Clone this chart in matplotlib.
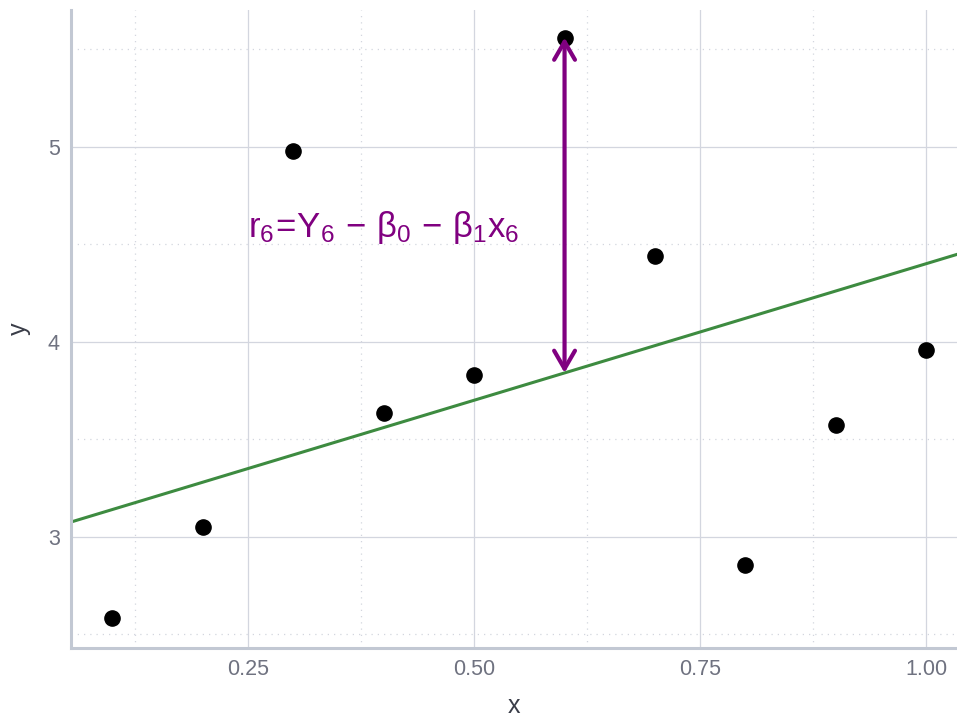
import numpy as np
import matplotlib.pyplot as plt
from matplotlib.ticker import MultipleLocator

# 数据
x = [0.1, 0.2, 0.3, 0.4, 0.5, 0.6, 0.7, 0.8, 0.9, 1.0]
y = [2.585, 3.051, 4.98, 3.636, 3.83, 5.559, 4.441, 2.856, 3.574, 3.959]
beta0 = 3.0
beta1 = 1.4
i_res = 5  # 第6个点

plt.rcParams['font.family'] = ['Liberation Sans', 'DejaVu Sans']
plt.rcParams['mathtext.fontset'] = 'custom'
plt.rcParams['mathtext.rm'] = 'Liberation Sans'
plt.rcParams['mathtext.it'] = 'Liberation Sans'
plt.rcParams['mathtext.sf'] = 'Liberation Sans'

grid_col = '#d3d6df'
axis_col = '#c2c8d3'
tick_col = '#6f7280'

fig = plt.figure(figsize=(9.57, 7.17), dpi=100)
ax = fig.add_axes([0.0742, 0.0962, 0.9258, 0.8898])

xlim = (0.0542, 1.034)
ax.set_xlim(xlim)
ax.set_ylim(2.43, 5.70)

# 网格
ax.xaxis.set_major_locator(MultipleLocator(0.25))
ax.xaxis.set_minor_locator(MultipleLocator(0.125))
ax.yaxis.set_major_locator(MultipleLocator(1))
ax.yaxis.set_minor_locator(MultipleLocator(0.5))
ax.grid(which='major', color=grid_col, linewidth=0.9)
ax.grid(which='minor', color=grid_col, linewidth=0.9, linestyle=(0, (1, 4)))
ax.set_axisbelow(True)

# 回归线
xs = np.array(xlim)
ax.plot(xs, beta0 + beta1 * xs, color='#3d8b40', linewidth=2.2, zorder=2)

# 点
ax.scatter(x, y, s=120, color='black', zorder=3)

# 残差箭头
xr = x[i_res]
ax.annotate('', xy=(xr, y[i_res]), xytext=(xr, beta0 + beta1 * xr),
            arrowprops=dict(arrowstyle='<->,head_length=1.3,head_width=0.75',
                            color='#800080', lw=3, shrinkA=0, shrinkB=0),
            zorder=4)
ax.text(0.25, 4.585, r'$\mathrm{r_6\!=\!Y_6\,-\,\beta_0\,-\,\beta_1 x_6}$', color='#800080',
        fontsize=25, ha='left', va='center')

# 坐标轴
for s in ['top', 'right']:
    ax.spines[s].set_visible(False)
for s in ['left', 'bottom']:
    ax.spines[s].set_color(axis_col)
    ax.spines[s].set_linewidth(2.2)
ax.tick_params(which='both', length=0, labelsize=15.5, labelcolor=tick_col, pad=8)
ax.set_xticks([0.25, 0.5, 0.75, 1.0])
ax.set_xticklabels(['0.25', '0.50', '0.75', '1.00'])
ax.set_xlabel('x', fontsize=18, color='#3a3d48', labelpad=10)
ax.set_ylabel('y', fontsize=18, color='#3a3d48', labelpad=12)

fig.savefig('out.png', dpi=100)
